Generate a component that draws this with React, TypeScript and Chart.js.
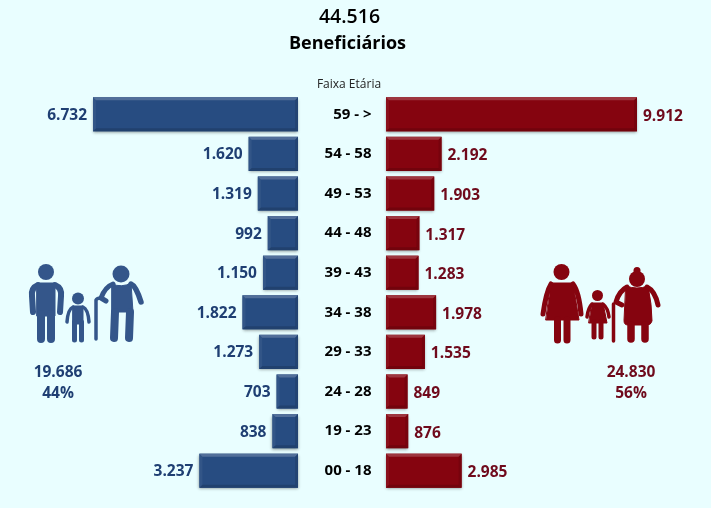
import React, { useEffect, useRef } from "react";
import { Chart, registerables } from "chart.js";

Chart.register(...registerables);

const ageBands = ["59 - >", "54 - 58", "49 - 53", "44 - 48", "39 - 43", "34 - 38", "29 - 33", "24 - 28", "19 - 23", "00 - 18"];
const menValues = [6732, 1620, 1319, 992, 1150, 1822, 1273, 703, 838, 3237];
const womenValues = [9912, 2192, 1903, 1317, 1283, 1978, 1535, 849, 876, 2985];
const totalLabel = "44.516";
const titleLabel = "Beneficiários";
const axisLabel = "Faixa Etária";
const menTotals = ["19.686", "44%"];
const womenTotals = ["24.830", "56%"];

const BG = "#E9FEFF";
const BLUE = "#274C81";
const RED = "#85040F";
const BLUE_TEXT = "#1F3F73";
const RED_TEXT = "#6F0A1C";
const FONT = '"Open Sans", sans-serif';

const fmt = (v: number) => (v >= 1000 ? `${Math.floor(v / 1000)}.${String(v % 1000).padStart(3, "0")}` : String(v));

const bevelPlugin = {
  id: "bevel",
  beforeDatasetsDraw(chart: any) {
    const ctx = chart.ctx;
    chart.data.datasets.forEach((_: any, di: number) => {
      chart.getDatasetMeta(di).data.forEach((bar: any) => {
        const l = Math.min(bar.x, bar.base);
        const r = Math.max(bar.x, bar.base);
        const t = bar.y - bar.height / 2;
        ctx.save();
        ctx.shadowColor = "rgba(0,0,0,0.4)";
        ctx.shadowBlur = 3;
        ctx.shadowOffsetY = 1.5;
        ctx.shadowOffsetX = 0;
        ctx.fillStyle = di === 0 ? BLUE : RED;
        ctx.fillRect(l, t, r - l, bar.height);
        ctx.restore();
      });
    });
  },
  afterDatasetsDraw(chart: any) {
    const ctx = chart.ctx;
    chart.data.datasets.forEach((_: any, di: number) => {
      chart.getDatasetMeta(di).data.forEach((bar: any) => {
        const l = Math.min(bar.x, bar.base);
        const r = Math.max(bar.x, bar.base);
        const t = bar.y - bar.height / 2;
        const b = bar.y + bar.height / 2;
        const d = 3;
        const bevel = (pts: number[][], color: string) => {
          ctx.beginPath();
          pts.forEach((p, i) => (i ? ctx.lineTo(p[0], p[1]) : ctx.moveTo(p[0], p[1])));
          ctx.closePath();
          ctx.fillStyle = color;
          ctx.fill();
        };
        bevel([[l, t], [r, t], [r - d, t + d], [l + d, t + d]], "rgba(255,255,255,0.2)");
        bevel([[l, t], [l + d, t + d], [l + d, b - d], [l, b]], "rgba(255,255,255,0.05)");
        bevel([[r, t], [r - d, t + d], [r - d, b - d], [r, b]], "rgba(0,0,0,0.1)");
        bevel([[l, b], [l + d, b - d], [r - d, b - d], [r, b]], "rgba(0,0,0,0.14)");
      });
    });
  },
};

const textPlugin = {
  id: "texts",
  afterDraw(chart: any) {
    const ctx = chart.ctx;
    const put = (s: string, x: number, y: number, font: string, color: string, align: CanvasTextAlign) => {
      ctx.font = font;
      ctx.fillStyle = color;
      ctx.textAlign = align;
      ctx.textBaseline = "middle";
      ctx.fillText(s, x, y);
    };
    ctx.save();
    const labelFont = `bold 15.5px ${FONT}`;
    const yS = chart.scales.y;
    ageBands.forEach((a, i) => {
      const y = yS.getPixelForValue(i);
      put(a, 371.5, y, `bold 15px ${FONT}`, "#000000", "right");
      const m = chart.getDatasetMeta(0).data[i];
      put(fmt(menValues[i]), m.x - 6, y + 1, labelFont, BLUE_TEXT, "right");
      const w = chart.getDatasetMeta(1).data[i];
      put(fmt(womenValues[i]), w.x + 6, y + 2, labelFont, RED_TEXT, "left");
    });
    put(totalLabel, 349.5, 17, `600 19.5px ${FONT}`, "#000000", "center");
    put(titleLabel, 347.5, 44, `bold 18px ${FONT}`, "#000000", "center");
    put(axisLabel, 349, 84.5, `12px ${FONT}`, "#222222", "center");
    put(menTotals[0], 58, 373, labelFont, BLUE_TEXT, "center");
    put(menTotals[1], 58, 394, labelFont, BLUE_TEXT, "center");
    put(womenTotals[0], 631, 373, labelFont, RED_TEXT, "center");
    put(womenTotals[1], 631, 394, labelFont, RED_TEXT, "center");
    ctx.restore();
  },
};

function MenIcon() {
  const c = "#34568A";
  return (
    <g fill={c} stroke={c} strokeLinecap="round" strokeLinejoin="round">
      <circle cx="46" cy="272" r="8" stroke="none" />
      <path d="M37 283 H55 V316 H37 Z" strokeWidth="1" />
      <path d="M38 285 Q31 288 32 296 L33 312 M55 285 Q62 288 61 296 L60 312" fill="none" strokeWidth="6" />
      <path d="M41 314 V339 M51 314 V339" fill="none" strokeWidth="8" />
      <circle cx="78" cy="298.5" r="6" stroke="none" />
      <path d="M73 306 H83 V324 H73 Z" strokeWidth="1" />
      <path d="M73 307 Q68 309 67 322 M83 307 Q88 309 89 322" fill="none" strokeWidth="3.5" />
      <path d="M74.5 322 V340 M81.5 322 V340" fill="none" strokeWidth="5" />
      <circle cx="121" cy="274" r="8.5" stroke="none" />
      <path d="M112 284 Q122 288 131 283 L133 312 H112 Z" strokeWidth="1" />
      <path d="M113 284 Q105 287 101 298 L106 301" fill="none" strokeWidth="5" />
      <path d="M131 284 Q136 286 141 302" fill="none" strokeWidth="5.5" />
      <path d="M115 312 L114 338 M130 312 L129 338" fill="none" strokeWidth="8" />
      <path d="M96 339 V300 Q97 298 101 298" fill="none" strokeWidth="3.5" />
    </g>
  );
}

function WomenIcon() {
  const c = "#85040F";
  return (
    <g fill={c} stroke={c} strokeLinecap="round" strokeLinejoin="round">
      <circle cx="561.5" cy="272" r="8" stroke="none" />
      <path d="M551 283 H573 L579 320 H546 Z" strokeWidth="1" />
      <path d="M551 284 Q546 292 543 314 M573 284 Q579 292 581 314" fill="none" strokeWidth="5" />
      <path d="M557.5 320 V340 M567 320 V340" fill="none" strokeWidth="7" />
      <circle cx="597.5" cy="295.5" r="5.5" stroke="none" />
      <path d="M592 303 H603 L607 323 H589 Z" strokeWidth="1" />
      <path d="M592 304 Q588 308 587 317 M603 304 Q608 308 609 317" fill="none" strokeWidth="3.5" />
      <path d="M594 322 V337 M601 322 V337" fill="none" strokeWidth="5" />
      <circle cx="637" cy="270.5" r="3.5" stroke="none" />
      <circle cx="637" cy="279" r="8" stroke="none" />
      <path d="M626 286 Q637 290 648 286 Q652 305 652 321 Q651 325 647 325 H628 Q624 325 624 321 Z" strokeWidth="1" />
      <path d="M627 287 Q619 291 616 302 L622 305" fill="none" strokeWidth="5" />
      <path d="M647 287 Q655 291 658 305" fill="none" strokeWidth="5" />
      <path d="M631 325 V339 M645 325 V339" fill="none" strokeWidth="7.5" />
      <path d="M613.5 341 V304" fill="none" strokeWidth="3.5" />
    </g>
  );
}

export default function App() {
  const ref = useRef<HTMLCanvasElement | null>(null);
  useEffect(() => {
    document.body.style.margin = "0";
    const chart = new Chart(ref.current as HTMLCanvasElement, {
      type: "bar",
      data: {
        labels: ageBands,
        datasets: [
          { label: "Masculino", data: menValues, xAxisID: "xL", backgroundColor: BLUE, grouped: false, barPercentage: 0.86, categoryPercentage: 1 } as any,
          { label: "Feminino", data: womenValues, xAxisID: "xR", backgroundColor: RED, grouped: false, barPercentage: 0.86, categoryPercentage: 1 } as any,
        ],
      },
      options: {
        indexAxis: "y",
        responsive: false,
        animation: false,
        layout: { padding: { top: 94.5, bottom: 17.5, left: 0, right: 0 } },
        plugins: { legend: { display: false }, tooltip: { enabled: false } },
        scales: {
          y: { display: false, offset: true },
          xL: { display: false, reverse: true, min: -13563, max: 9786, grid: { display: false } },
          xR: { display: false, min: -15244, max: 12835, grid: { display: false } },
        },
      } as any,
      plugins: [bevelPlugin, textPlugin] as any,
    });
    return () => chart.destroy();
  }, []);
  return (
    <div style={{ position: "relative", width: 711, height: 508, background: BG, overflow: "hidden" }}>
      <canvas ref={ref} width={711} height={508} style={{ position: "absolute", left: 0, top: 0, display: "block" }} />
      <svg width={711} height={508} style={{ position: "absolute", left: 0, top: 0 }}>
        <MenIcon />
        <WomenIcon />
      </svg>
    </div>
  );
}
